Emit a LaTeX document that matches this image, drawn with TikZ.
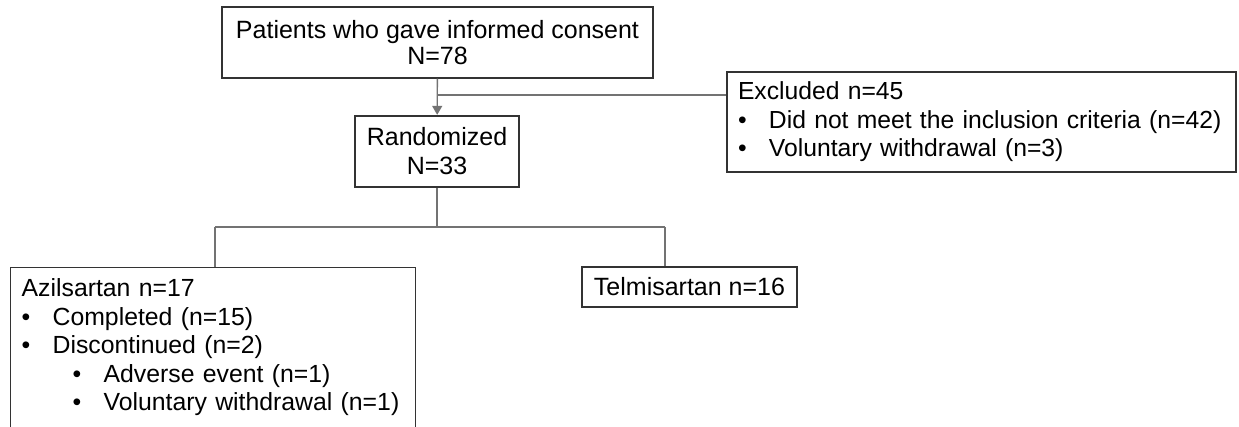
\documentclass[tikz,border=0pt]{standalone}
\usepackage{fontspec}
\setmainfont{Liberation Sans}
\usetikzlibrary{arrows.meta}
\newcommand{\bul}{\makebox[31pt][l]{\textbullet}}
\begin{document}
\begin{tikzpicture}[x=1pt,y=-1pt,
  box/.style={draw=black!80, line width=1.3pt, inner sep=0pt},
  conn/.style={draw=black!55, line width=1.4pt}]
\useasboundingbox (0,0) rectangle (1239,427);
\clip (0,0) rectangle (1239,427);
\fill[white] (0,0) rectangle (1239,427);

\node[box, minimum width=431pt, minimum height=71pt, align=center,
  font=\fontsize{25}{25.6}\selectfont] (consent) at (437.5,42.5)
  {Patients who gave informed consent\\N=78};
\node[box, minimum width=164pt, minimum height=71pt, align=center,
  font=\fontsize{25}{29}\selectfont] (rand) at (437,151.5)
  {Randomized\\N=33};
\node[box, minimum width=509pt, minimum height=100pt, text width=487pt, inner xsep=11pt,
  align=left, font=\fontsize{24.7}{28.5}\selectfont] (excl) at (981.5,122)
  {Excluded n=45\\
   \mbox{\bul Did not meet the inclusion criteria (n=42)}\\
   \mbox{\bul Voluntary withdrawal (n=3)}};
\node[box, anchor=north west, text width=383pt, inner xsep=11pt, inner ysep=11pt,
  align=left, font=\fontsize{24.8}{28.5}\selectfont] (azil) at (10,267)
  {Azilsartan n=17\\
   \mbox{\bul Completed (n=15)}\\
   \mbox{\bul Discontinued (n=2)}\\
   \mbox{\hspace{51pt}\bul Adverse event (n=1)}\\
   \mbox{\hspace{51pt}\bul Voluntary withdrawal (n=1)}\rule[-60pt]{0pt}{60pt}};
\node[box, minimum width=215pt, minimum height=40pt, font=\fontsize{25}{25}\selectfont]
  (telmi) at (689.5,287) {Telmisartan n=16};

\coordinate (branch) at (437,95);
\coordinate (split) at (437,227);
\coordinate (lsplit) at (215,227);
\coordinate (rsplit) at (665,227);
\draw[conn, -{Triangle[length=9pt,width=10pt]}, shorten >=0.5pt] (consent) -- (rand);
\draw[conn] (branch) -- (branch -| excl.west);
\draw[conn] (rand) -- (split);
\draw[conn] (lsplit) -- (rsplit);
\draw[conn] (lsplit) -- (lsplit |- azil.north);
\draw[conn] (rsplit) -- (rsplit |- telmi.north);
\end{tikzpicture}
\end{document}
